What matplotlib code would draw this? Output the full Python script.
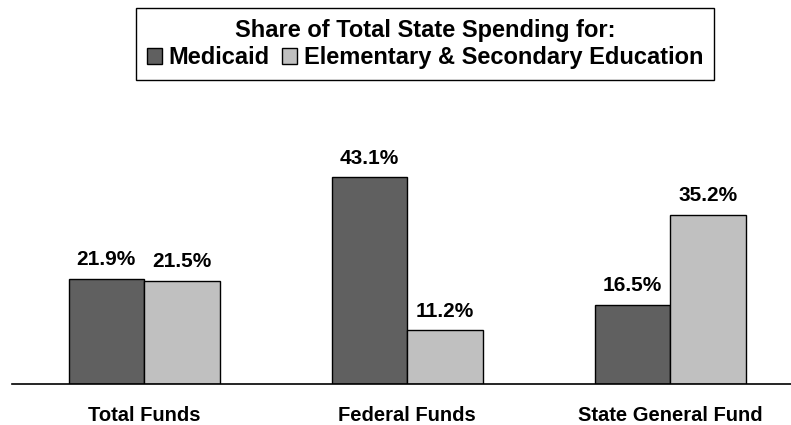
import numpy as np
import matplotlib.pyplot as plt

plt.rcParams['font.family'] = ['Liberation Sans', 'DejaVu Sans']
plt.rcParams['font.weight'] = 'bold'

categories = ['Total Funds', 'Federal Funds', 'State General Fund']
medicaid = [21.9, 43.1, 16.5]
education = [21.5, 11.2, 35.2]
series_names = ['Medicaid', 'Elementary & Secondary Education']

W, H = 791, 425
fig = plt.figure(figsize=(W / 100, H / 100), dpi=100)
# axes placed in pixel terms: baseline at y=384, plot from x=12 to right edge
ax = fig.add_axes([12 / W, (H - 384) / H, (W - 12) / W, (384 - 100) / H])

x = np.arange(len(categories))
width = 0.287
b1 = ax.bar(x - width / 2, medicaid, width, color='#606060', edgecolor='black', linewidth=1)
b2 = ax.bar(x + width / 2, education, width, color='#c0c0c0', edgecolor='black', linewidth=1)

for bars, vals in ((b1, medicaid), (b2, education)):
    for bar, v in zip(bars, vals):
        ax.annotate(f'{v:.1f}%', (bar.get_x() + bar.get_width() / 2, v),
                    xytext=(0, 7), textcoords='offset points',
                    ha='center', va='bottom', fontsize=15, fontweight='bold')

ax.set_xlim(-0.502, 2.46)
ax.set_ylim(0, 59.2)
ax.set_xticks(x)
ax.set_xticklabels(categories, fontsize=14.5, fontweight='bold')
ax.tick_params(axis='x', length=0, pad=16)
ax.set_yticks([])
for side in ('top', 'right', 'left'):
    ax.spines[side].set_visible(False)
ax.spines['bottom'].set_linewidth(1.2)

leg = fig.legend([b1, b2], series_names, loc='upper center', ncol=2,
                 bbox_to_anchor=(425 / W, 1 - 8 / H),
                 title='Share of Total State Spending for:',
                 title_fontproperties={'weight': 'bold', 'size': 17},
                 prop={'weight': 'bold', 'size': 17},
                 fancybox=False, edgecolor='black', framealpha=1,
                 handlelength=0.64, handleheight=0.64, handletextpad=0.3,
                 columnspacing=0.5, borderpad=0.45, labelspacing=0.2,
                 borderaxespad=0)
leg.get_frame().set_linewidth(1)

fig.savefig('out.png', dpi=100)
